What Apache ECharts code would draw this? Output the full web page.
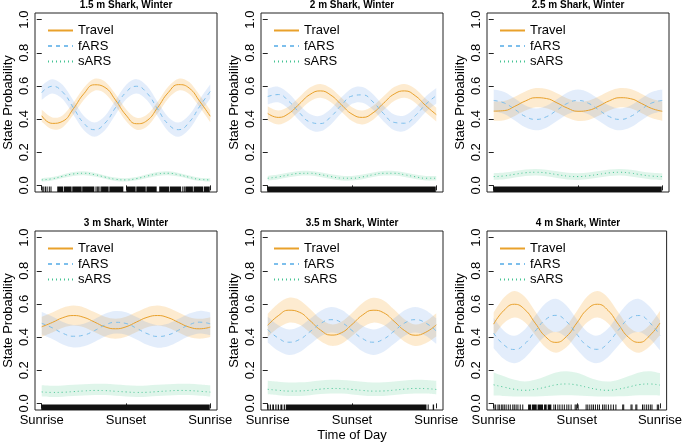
<!DOCTYPE html>
<html><head><meta charset="utf-8">
<script src="https://cdn.jsdelivr.net/npm/echarts@6/dist/echarts.min.js"></script>
<style>html,body{margin:0;padding:0;background:#fff}#c{width:685px;height:443px}</style>
</head><body><div id="c"></div>
<script>
const panelTitles = ['1.5 m Shark, Winter','2 m Shark, Winter','2.5 m Shark, Winter','3 m Shark, Winter','3.5 m Shark, Winter','4 m Shark, Winter'];
const stateNames = ['Travel','fARS','sARS'];
const timePts = [0,0.0625,0.125,0.1875,0.25,0.3125,0.375,0.4375,0.5,0.5625,0.625,0.6875,0.75,0.8125,0.875,0.9375,1];
const xTickVals = [0,0.5,1];
const xTickLabels = ['Sunrise','Sunset','Sunrise'];
const yTickVals = [0,0.2,0.4,0.6,0.8,1];

const travelMid = [
 [0.420,0.374,0.387,0.462,0.553,0.607,0.591,0.515,0.424,0.372,0.391,0.469,0.559,0.608,0.587,0.507,0.417],
 [0.434,0.410,0.434,0.491,0.548,0.570,0.544,0.486,0.430,0.410,0.438,0.496,0.551,0.570,0.541,0.481,0.427],
 [0.448,0.451,0.477,0.509,0.529,0.524,0.498,0.466,0.447,0.453,0.479,0.511,0.529,0.523,0.495,0.464,0.447],
 [0.462,0.488,0.517,0.530,0.519,0.491,0.462,0.450,0.462,0.491,0.519,0.530,0.517,0.488,0.460,0.450,0.460],
 [0.471,0.529,0.562,0.550,0.500,0.443,0.412,0.426,0.476,0.533,0.562,0.547,0.495,0.439,0.411,0.429,0.474],
 [0.478,0.562,0.598,0.566,0.484,0.402,0.368,0.403,0.485,0.567,0.598,0.561,0.477,0.397,0.368,0.408,0.485]];
const travelLo = [
 [0.384,0.338,0.351,0.426,0.517,0.571,0.555,0.479,0.388,0.336,0.355,0.433,0.523,0.572,0.551,0.471,0.381],
 [0.392,0.368,0.392,0.449,0.506,0.528,0.502,0.444,0.388,0.368,0.396,0.454,0.509,0.528,0.499,0.439,0.385],
 [0.390,0.393,0.419,0.451,0.471,0.466,0.440,0.408,0.389,0.395,0.421,0.453,0.471,0.465,0.437,0.406,0.389],
 [0.402,0.428,0.457,0.470,0.459,0.431,0.402,0.390,0.402,0.431,0.459,0.470,0.457,0.428,0.400,0.390,0.400],
 [0.402,0.456,0.487,0.476,0.429,0.376,0.347,0.360,0.407,0.460,0.487,0.473,0.424,0.372,0.346,0.363,0.404],
 [0.407,0.485,0.518,0.489,0.413,0.337,0.306,0.338,0.414,0.489,0.518,0.484,0.406,0.333,0.306,0.343,0.413]];
const travelHi = [
 [0.456,0.410,0.423,0.498,0.589,0.643,0.627,0.551,0.460,0.408,0.427,0.505,0.595,0.644,0.623,0.543,0.453],
 [0.476,0.452,0.476,0.533,0.590,0.612,0.586,0.528,0.472,0.452,0.480,0.538,0.593,0.612,0.583,0.523,0.469],
 [0.506,0.509,0.535,0.567,0.587,0.582,0.556,0.524,0.505,0.511,0.537,0.569,0.587,0.581,0.553,0.522,0.505],
 [0.522,0.548,0.577,0.590,0.579,0.551,0.522,0.510,0.522,0.551,0.579,0.590,0.577,0.548,0.520,0.510,0.520],
 [0.540,0.602,0.637,0.624,0.571,0.510,0.477,0.492,0.545,0.606,0.637,0.621,0.566,0.506,0.476,0.495,0.544],
 [0.549,0.639,0.678,0.643,0.555,0.467,0.430,0.468,0.556,0.645,0.678,0.638,0.548,0.461,0.430,0.473,0.557]];

const farsMid = [
 [0.560,0.598,0.562,0.469,0.375,0.336,0.375,0.469,0.562,0.598,0.556,0.461,0.370,0.336,0.381,0.477,0.567],
 [0.536,0.548,0.507,0.439,0.383,0.373,0.415,0.484,0.539,0.546,0.503,0.433,0.380,0.375,0.420,0.489,0.541],
 [0.512,0.497,0.458,0.416,0.398,0.414,0.454,0.495,0.512,0.495,0.454,0.414,0.398,0.416,0.458,0.497,0.512],
 [0.483,0.456,0.423,0.405,0.412,0.439,0.472,0.489,0.482,0.453,0.421,0.404,0.413,0.442,0.474,0.490,0.480],
 [0.445,0.394,0.369,0.385,0.432,0.481,0.505,0.488,0.440,0.391,0.369,0.388,0.436,0.485,0.505,0.485,0.436],
 [0.424,0.352,0.325,0.360,0.436,0.506,0.531,0.494,0.417,0.347,0.326,0.365,0.442,0.510,0.530,0.488,0.411]];
const farsLo = [
 [0.517,0.555,0.519,0.426,0.332,0.293,0.332,0.426,0.519,0.555,0.513,0.418,0.327,0.293,0.338,0.434,0.524],
 [0.489,0.501,0.460,0.392,0.336,0.326,0.368,0.437,0.492,0.499,0.456,0.386,0.333,0.328,0.373,0.442,0.494],
 [0.446,0.431,0.392,0.350,0.332,0.348,0.388,0.429,0.446,0.429,0.388,0.348,0.332,0.350,0.392,0.431,0.446],
 [0.415,0.388,0.355,0.337,0.344,0.371,0.404,0.421,0.414,0.385,0.353,0.336,0.345,0.374,0.406,0.422,0.412],
 [0.368,0.317,0.292,0.308,0.355,0.404,0.428,0.411,0.363,0.314,0.292,0.311,0.359,0.408,0.428,0.408,0.359],
 [0.333,0.267,0.242,0.274,0.344,0.408,0.431,0.397,0.326,0.262,0.243,0.279,0.349,0.412,0.430,0.392,0.321]];
const farsHi = [
 [0.603,0.641,0.605,0.512,0.418,0.379,0.418,0.512,0.605,0.641,0.599,0.504,0.413,0.379,0.424,0.520,0.610],
 [0.583,0.595,0.554,0.486,0.430,0.420,0.462,0.531,0.586,0.593,0.550,0.480,0.427,0.422,0.467,0.536,0.588],
 [0.578,0.563,0.524,0.482,0.464,0.480,0.520,0.561,0.578,0.561,0.520,0.480,0.464,0.482,0.524,0.563,0.578],
 [0.551,0.524,0.491,0.473,0.480,0.507,0.540,0.557,0.550,0.521,0.489,0.472,0.481,0.510,0.542,0.558,0.548],
 [0.522,0.471,0.446,0.462,0.509,0.558,0.582,0.565,0.517,0.468,0.446,0.465,0.513,0.562,0.582,0.562,0.513],
 [0.515,0.437,0.408,0.446,0.528,0.604,0.631,0.591,0.508,0.432,0.409,0.451,0.535,0.608,0.630,0.584,0.501]];

const sarsMid = [
 [0.033,0.040,0.055,0.069,0.073,0.065,0.050,0.037,0.033,0.041,0.056,0.069,0.073,0.064,0.049,0.036,0.033],
 [0.043,0.051,0.063,0.072,0.073,0.065,0.053,0.044,0.043,0.051,0.064,0.073,0.073,0.064,0.052,0.043,0.043],
 [0.053,0.057,0.067,0.076,0.079,0.075,0.065,0.056,0.053,0.058,0.067,0.076,0.079,0.074,0.064,0.056,0.053],
 [0.069,0.066,0.067,0.071,0.075,0.078,0.077,0.073,0.069,0.066,0.067,0.071,0.075,0.078,0.077,0.073,0.068],
 [0.085,0.079,0.074,0.075,0.079,0.086,0.090,0.089,0.084,0.078,0.074,0.075,0.080,0.086,0.090,0.089,0.084],
 [0.112,0.098,0.085,0.079,0.085,0.098,0.112,0.117,0.111,0.097,0.084,0.079,0.086,0.099,0.113,0.117,0.110]];
const sarsLo = [
 [0.023,0.030,0.044,0.057,0.061,0.054,0.040,0.027,0.023,0.031,0.045,0.057,0.061,0.053,0.039,0.026,0.023],
 [0.029,0.037,0.049,0.058,0.059,0.051,0.039,0.030,0.029,0.037,0.050,0.059,0.059,0.050,0.038,0.029,0.029],
 [0.033,0.037,0.047,0.056,0.059,0.055,0.045,0.036,0.033,0.038,0.047,0.056,0.059,0.054,0.044,0.036,0.033],
 [0.042,0.039,0.040,0.044,0.048,0.051,0.050,0.046,0.042,0.039,0.040,0.044,0.048,0.051,0.050,0.046,0.041],
 [0.055,0.049,0.044,0.045,0.049,0.056,0.060,0.059,0.054,0.048,0.044,0.045,0.050,0.056,0.060,0.059,0.054],
 [0.048,0.045,0.042,0.041,0.042,0.045,0.048,0.049,0.048,0.045,0.042,0.041,0.043,0.045,0.049,0.049,0.048]];
const sarsHi = [
 [0.043,0.050,0.066,0.081,0.085,0.076,0.060,0.047,0.043,0.051,0.067,0.081,0.085,0.075,0.059,0.046,0.043],
 [0.057,0.065,0.077,0.086,0.087,0.079,0.067,0.058,0.057,0.065,0.078,0.087,0.087,0.078,0.066,0.057,0.057],
 [0.073,0.077,0.087,0.096,0.099,0.095,0.085,0.076,0.073,0.078,0.087,0.096,0.099,0.094,0.084,0.076,0.073],
 [0.110,0.107,0.108,0.112,0.116,0.119,0.118,0.114,0.110,0.107,0.108,0.112,0.116,0.119,0.118,0.114,0.109],
 [0.137,0.131,0.126,0.127,0.131,0.138,0.142,0.141,0.136,0.130,0.126,0.127,0.132,0.138,0.142,0.141,0.136],
 [0.186,0.163,0.142,0.132,0.142,0.163,0.186,0.194,0.184,0.161,0.140,0.132,0.143,0.165,0.187,0.194,0.183]];

// rug of observation times: [start, end] (start == end is a single tick)
const rug1 = [[0.003,0.003],[0.012,0.012],[0.022,0.022],[0.032,0.032],[0.045,0.045],[0.055,0.055],
 [0.095,0.13],[0.134,0.18],[0.184,0.24],[0.243,0.315],[0.322,0.322],[0.33,0.33],[0.338,0.338],[0.346,0.346],
 [0.355,0.40],[0.404,0.487],[0.505,0.56],[0.564,0.62],[0.624,0.685],[0.70,0.76],[0.764,0.83],[0.837,0.837],
 [0.846,0.846],[0.855,0.90],[0.904,0.96],[0.964,1.0]];
const rug2 = [[0,1]];
const rug3 = [[0,1]];
const rug4 = [[0,1]];
const rug5 = [[0,0.008],[0.015,0.022],[0.03,0.04],[0.048,0.055],[0.062,0.07],[0.078,0.09],[0.098,0.105],[0.11,0.945],[0.952,0.955],[0.982,0.99]];
const rug6 = [[0.002,0.002],[0.012,0.012],[0.026,0.026],[0.034,0.034],[0.046,0.046],[0.055,0.055],[0.064,0.064],[0.075,0.075],
 [0.088,0.088],[0.1,0.1],[0.115,0.115],[0.124,0.124],[0.135,0.135],[0.146,0.146],[0.16,0.16],[0.175,0.175],
 [0.21,0.228],[0.233,0.262],[0.267,0.30],[0.306,0.322],[0.328,0.35],
 [0.362,0.362],[0.372,0.372],[0.386,0.386],[0.398,0.398],[0.412,0.412],[0.425,0.425],[0.44,0.44],[0.452,0.452],[0.466,0.466],
 [0.49,0.49],[0.497,0.497],[0.508,0.508],[0.556,0.556],[0.566,0.566],[0.578,0.578],[0.59,0.59],[0.6,0.6],[0.612,0.612],
 [0.625,0.625],[0.636,0.636],[0.655,0.655],[0.665,0.665],[0.676,0.676],[0.69,0.69],[0.705,0.705],[0.72,0.72],[0.735,0.735],
 [0.776,0.776],[0.782,0.782],[0.826,0.826],[0.832,0.832],[0.855,0.855],[0.861,0.861],[0.895,0.895],[0.905,0.905],
 [0.918,0.918],[0.93,0.93],[0.942,0.942],[0.952,0.952],[0.984,0.984],[0.992,0.992]];
const rugs = [rug1,rug2,rug3,rug4,rug5,rug6];

const FONT = 'Liberation Sans, Arial, Helvetica, sans-serif';
const gridLefts = [35,261,487];
const gridTops = [13,231];
const GW = 182, GH = 179;

const states = [
 {name:'Travel', mid:travelMid, lo:travelLo, hi:travelHi, line:'#E9A12B', band:'rgba(245,165,40,0.22)', dash:'solid'},
 {name:'fARS', mid:farsMid, lo:farsLo, hi:farsHi, line:'#7DBFEC', band:'rgba(90,150,230,0.17)', dash:[4,4]},
 {name:'sARS', mid:sarsMid, lo:sarsLo, hi:sarsHi, line:'#45C493', band:'rgba(80,200,140,0.18)', dash:[1,3]}
];

// Catmull-Rom segments through pixel points (rendering only)
function curveCmds(pts){
  let d='';
  for(let i=0;i<pts.length-1;i++){
    const p0=pts[Math.max(0,i-1)], p1=pts[i], p2=pts[i+1], p3=pts[Math.min(pts.length-1,i+2)];
    const c1=[p1[0]+(p2[0]-p0[0])/6, p1[1]+(p2[1]-p0[1])/6];
    const c2=[p2[0]-(p3[0]-p1[0])/6, p2[1]-(p3[1]-p1[1])/6];
    d+=' C'+c1[0]+' '+c1[1]+' '+c2[0]+' '+c2[1]+' '+p2[0]+' '+p2[1];
  }
  return d;
}

const grid=[], xAxis=[], yAxis=[], series=[], legend=[], title=[];
for (let p=0;p<6;p++){
  const col=p%3, row=Math.floor(p/3);
  const L=gridLefts[col], T=gridTops[row];
  grid.push({left:L, top:T, width:GW, height:GH, show:true, borderColor:'#222', borderWidth:1, backgroundColor:'transparent'});
  xAxis.push({type:'value', gridIndex:p, min:-0.04, max:1.04,
    axisLine:{show:false}, splitLine:{show:false},
    axisTick:{show:true, customValues:xTickVals, length:5, inside:false, lineStyle:{color:'#222', width:1}},
    axisLabel:{show:row===1, customValues:xTickVals, formatter:v=>xTickLabels[xTickVals.indexOf(v)], fontSize:13, color:'#000', fontFamily:FONT, margin:4},
    name: p===4 ? 'Time of Day' : '', nameLocation:'middle', nameGap:19,
    nameTextStyle:{fontSize:13, color:'#000', fontFamily:FONT}});
  yAxis.push({type:'value', gridIndex:p, min:-0.04, max:1.04,
    axisLine:{show:false}, splitLine:{show:false},
    axisTick:{show:true, customValues:yTickVals, length:5, inside:false, lineStyle:{color:'#222', width:1}},
    axisLabel:{customValues:yTickVals, rotate:90, formatter:v=>v.toFixed(1), fontSize:13, color:'#000', fontFamily:FONT, margin:4},
    name:'State Probability', nameLocation:'middle', nameGap:20,
    nameTextStyle:{fontSize:13, color:'#000', fontFamily:FONT}});
  title.push({text:panelTitles[p], left:L+GW/2, top:row===0?0:218, textAlign:'center', padding:0,
    textStyle:{fontSize:10, fontWeight:'bold', color:'#000', fontFamily:FONT}});
  legend.push({left:L+12, top:T+11, orient:'vertical', padding:0, itemWidth:25, itemHeight:10, itemGap:2.5,
    data:stateNames, selectedMode:false, itemStyle:{opacity:0},
    textStyle:{fontSize:13, color:'#000', fontFamily:FONT, padding:0}});
  states.forEach(s=>{
    const lo=s.lo[p], hi=s.hi[p];
    series.push({type:'custom', name:s.name+' band', xAxisIndex:p, yAxisIndex:p, silent:true, z:1,
      data:[[timePts[0], lo[0]]],
      renderItem:(params, api)=>{
        const up=timePts.map((t,i)=>api.coord([t, hi[i]]));
        const dn=timePts.map((t,i)=>api.coord([t, lo[i]])).reverse();
        let d='M'+up[0][0]+' '+up[0][1]+curveCmds(up)+' L'+dn[0][0]+' '+dn[0][1]+curveCmds(dn)+' Z';
        return {type:'path', shape:{pathData:d}, style:{fill:s.band, stroke:null}};
      }});
  });
  states.forEach(s=>{
    series.push({type:'line', name:s.name, xAxisIndex:p, yAxisIndex:p, smooth:true, symbol:'none', silent:true, z:3,
      itemStyle:{color:s.line}, lineStyle:{color:s.line, width:1, type:s.dash},
      data:timePts.map((t,i)=>[t, s.mid[p][i]])});
  });
  series.push({type:'custom', name:'rug', xAxisIndex:p, yAxisIndex:p, silent:true, z:4,
    data:rugs[p], encode:{x:[0,1]},
    renderItem:(params, api)=>{
      const cs=params.coordSys;
      const base=cs.y+cs.height;
      const a=api.coord([api.value(0),0]), b=api.coord([api.value(1),0]);
      const w=Math.max(1,b[0]-a[0]);
      return {type:'rect', shape:{x:a[0]-0.5, y:base-5.5, width:w, height:5.5}, style:{fill:'#111'}};
    }});
}

const chart = echarts.init(document.getElementById('c'), null, {renderer:'canvas'});
chart.setOption({animation:false, backgroundColor:'#fff', textStyle:{fontFamily:FONT},
  grid, xAxis, yAxis, series, legend, title});
</script></body></html>
